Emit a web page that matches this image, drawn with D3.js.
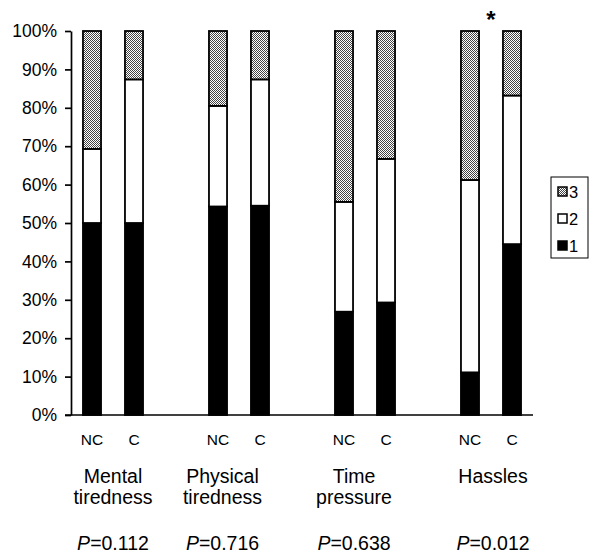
<!DOCTYPE html>
<html>
<head>
<meta charset="utf-8">
<script src="https://cdn.jsdelivr.net/npm/d3@7"></script>
<style>
  body { margin: 0; background: #fff; }
  svg text { font-family: "Liberation Sans", Arial, sans-serif; fill: #000; }
</style>
</head>
<body>
<script>
// data
let groups = ["Mental tiredness", "Physical tiredness", "Time pressure", "Hassles"];
let groupLines = [["Mental", "tiredness"], ["Physical", "tiredness"], ["Time", "pressure"], ["Hassles"]];
let conditions = ["NC", "C"];
let pValues = ["0.112", "0.716", "0.638", "0.012"];
let significant = [false, false, false, true];
let levels = ["1", "2", "3"];
// one value per bar, in order NC, C for each group
let level1 = [50.0, 50.0, 54.3, 54.5, 26.9, 29.3, 11.1, 44.5];
let level2 = [19.3, 37.4, 26.2, 32.9, 28.6, 37.4, 50.1, 38.7];
let level3 = [30.7, 12.6, 19.5, 12.6, 44.5, 33.3, 38.8, 16.8];
let yTicks = [0, 10, 20, 30, 40, 50, 60, 70, 80, 90, 100];

// layout
let width = 589, height = 556;
let plotLeft = 71, plotRight = 533, plotTop = 31, plotBottom = 415;
let labelShift = [0, -16.5, -11, 2]; // group captions are not quite centred in the original

let svg = d3.select("body").append("svg")
  .attr("width", width)
  .attr("height", height);

// dotted fill for level 3
let defs = svg.append("defs");
let pat = defs.append("pattern")
  .attr("id", "dots")
  .attr("width", 2).attr("height", 2)
  .attr("patternUnits", "userSpaceOnUse");
pat.append("rect").attr("width", 2).attr("height", 2).attr("fill", "#fff");
pat.append("rect").attr("width", 1).attr("height", 1).attr("fill", "#444");
pat.append("rect").attr("x", 1).attr("y", 1).attr("width", 1).attr("height", 1).attr("fill", "#444");

let fills = { "1": "#000", "2": "#fff", "3": "url(#dots)" };

// build the bar table, with empty slots between groups
let rows = [];
let slots = [];
groups.forEach((g, gi) => {
  conditions.forEach((c, ci) => {
    let i = gi * 2 + ci;
    let key = g + "|" + c;
    rows.push({ key: key, group: gi, cond: c, "1": level1[i], "2": level2[i], "3": level3[i] });
    slots.push(key);
  });
  if (gi < groups.length - 1) slots.push("gap" + gi);
});

let x = d3.scaleBand()
  .domain(slots)
  .range([plotLeft, plotRight])
  .paddingInner(0.57)
  .paddingOuter(0.285);

let y = d3.scaleLinear()
  .domain([0, 100])
  .range([plotBottom, plotTop]);

let stacked = d3.stack().keys(levels)(rows);

// y axis
let yAxis = svg.append("g")
  .attr("transform", "translate(" + plotLeft + ",0)")
  .call(d3.axisLeft(y).tickValues(yTicks).tickSize(6).tickSizeOuter(0).tickPadding(8)
    .tickFormat(d => d + "%"));
yAxis.select(".domain").attr("stroke", "#000").attr("stroke-width", 1.7);
yAxis.selectAll(".tick line").attr("stroke", "#000").attr("stroke-width", 1.7);
yAxis.selectAll(".tick text").style("font-size", "17.5px");

// bars
svg.append("g").selectAll("g")
  .data(stacked)
  .join("g")
  .attr("fill", d => fills[d.key])
  .selectAll("rect")
  .data(d => d)
  .join("rect")
  .attr("x", d => x(d.data.key))
  .attr("width", x.bandwidth())
  .attr("y", d => y(d[1]))
  .attr("height", d => y(d[0]) - y(d[1]))
  .attr("stroke", "#000")
  .attr("stroke-width", 1.8);

// baseline
svg.append("line")
  .attr("x1", plotLeft - 6).attr("x2", plotRight)
  .attr("y1", y(0)).attr("y2", y(0))
  .attr("stroke", "#000").attr("stroke-width", 1.7);

// condition labels under bars
svg.append("g").selectAll("text")
  .data(rows)
  .join("text")
  .attr("x", d => x(d.key) + x.bandwidth() / 2)
  .attr("y", 445)
  .attr("text-anchor", "middle")
  .style("font-size", "15.5px")
  .text(d => d.cond);

// group captions
let groupCenter = gi => {
  let a = x(groups[gi] + "|" + conditions[0]);
  let b = x(groups[gi] + "|" + conditions[1]);
  return (a + b + x.bandwidth()) / 2 + labelShift[gi];
};

let caps = svg.append("g").selectAll("text")
  .data(groupLines)
  .join("text")
  .attr("x", (d, gi) => groupCenter(gi))
  .attr("y", 483)
  .attr("text-anchor", "middle")
  .style("font-size", "19.5px");
caps.selectAll("tspan")
  .data(d => d)
  .join("tspan")
  .attr("x", function () { return d3.select(this.parentNode).attr("x"); })
  .attr("dy", (d, i) => i === 0 ? 0 : 21)
  .text(d => d);

// P values
let pv = svg.append("g").selectAll("text")
  .data(pValues)
  .join("text")
  .attr("x", (d, gi) => groupCenter(gi))
  .attr("y", 550)
  .attr("text-anchor", "middle")
  .style("font-size", "19.5px");
pv.append("tspan").style("font-style", "italic").text("P");
pv.append("tspan").text(d => "=" + d);

// significance star
svg.append("g").selectAll("text")
  .data(groups.filter((g, gi) => significant[gi]))
  .join("text")
  .attr("x", g => {
    let a = x(g + "|" + conditions[0]);
    let b = x(g + "|" + conditions[1]);
    return (a + b + x.bandwidth()) / 2;
  })
  .attr("y", 28)
  .attr("text-anchor", "middle")
  .style("font-size", "24px")
  .style("font-weight", "bold")
  .text("*");

// legend
let legend = svg.append("g").attr("transform", "translate(551,177)");
legend.append("rect")
  .attr("width", 37).attr("height", 81)
  .attr("fill", "#fff").attr("stroke", "#000").attr("stroke-width", 1);
let items = legend.selectAll("g.item")
  .data(levels.slice().reverse())
  .join("g")
  .attr("class", "item")
  .attr("transform", (d, i) => "translate(7," + (10 + i * 27) + ")");
items.append("rect")
  .attr("width", 9).attr("height", 9)
  .attr("fill", d => fills[d])
  .attr("stroke", "#000").attr("stroke-width", 1.5);
items.append("text")
  .attr("x", 11).attr("y", 10.5)
  .style("font-size", "16.5px")
  .text(d => d);
</script>
</body>
</html>
